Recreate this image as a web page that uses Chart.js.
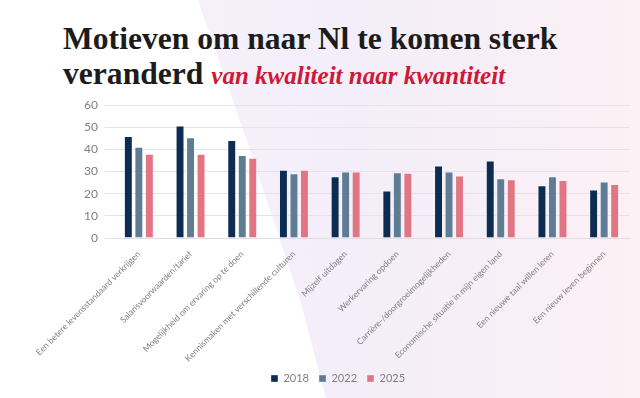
<!DOCTYPE html>
<html>
<head>
<meta charset="utf-8">
<script src="https://cdn.jsdelivr.net/npm/chart.js@4/dist/chart.umd.min.js"></script>
<style>
  html, body { margin: 0; padding: 0; }
  body { width: 640px; height: 398px; position: relative; overflow: hidden; background: #ffffff; }
  #bg {
    position: absolute; left: 0; top: 0; width: 640px; height: 398px;
    background: linear-gradient(90deg, #f7f3fc 0%, #f3eef9 55%, #f8eff7 80%, #fcf1f4 100%);
    clip-path: polygon(198px 0, 640px 0, 640px 398px, 326px 398px, 300px 300px, 250px 150px);
  }
  #title {
    position: absolute; left: 63px; top: 21px;
    font-family: "Liberation Serif", "Times New Roman", serif;
    font-weight: bold; font-size: 31.6px; line-height: 35px; color: #1c1c1c;
  }
  #title .sub { font-style: italic; font-size: 25px; color: #cf1838; }
  #chart { position: absolute; left: 0; top: 0; }
</style>
</head>
<body>
<div id="bg"></div>
<div id="title">Motieven om naar Nl te komen sterk<br>veranderd <span class="sub">van kwaliteit naar kwantiteit</span></div>
<canvas id="chart" width="640" height="398"></canvas>
<script>
const categories = [
  'Een betere levensstandaard verkrijgen',
  'Salarisvoorwaarden/tarief',
  'Mogelijkheid om ervaring op te doen',
  'Kennismaken met verschillende culturen',
  'Mijzelf uitdagen',
  'Werkervaring opdoen',
  'Carrière-/doorgroeimogelijkheden',
  'Economische situatie in mijn eigen land',
  'Een nieuwe taal willen leren',
  'Een nieuw leven beginnen'
];
const seriesNames = ['2018', '2022', '2025'];
const values2018 = [46.0, 50.8, 44.2, 30.8, 27.9, 21.4, 32.7, 35.0, 23.8, 21.9];
const values2022 = [41.2, 45.4, 37.5, 29.2, 30.0, 29.7, 30.0, 27.0, 27.9, 25.5];
const values2025 = [38.0, 38.0, 36.2, 30.8, 30.0, 29.4, 28.2, 26.5, 26.2, 24.4];
const yTicks = [0, 10, 20, 30, 40, 50, 60];

const colors = ['#0d2c51', '#5e7c94', '#e27584'];
const allValues = [values2018, values2022, values2025];

const tickColor = '#808080';

new Chart(document.getElementById('chart'), {
  type: 'bar',
  data: {
    labels: categories,
    datasets: seriesNames.map((name, i) => ({
      label: name,
      data: allValues[i],
      backgroundColor: colors[i],
      borderColor: 'rgba(255,255,255,0.35)',
      borderWidth: 1,
      barPercentage: 0.85,
      categoryPercentage: 0.61
    }))
  },
  options: {
    responsive: false,
    animation: false,
    devicePixelRatio: 1,
    layout: { padding: { top: 105, left: 46, right: 10, bottom: 4 } },
    plugins: {
      legend: {
        position: 'bottom',
        labels: {
          boxWidth: 7, boxHeight: 7, padding: 10,
          color: tickColor,
          font: { family: 'Lato', size: 11 }
        }
      },
      tooltip: { enabled: false }
    },
    scales: {
      x: {
        grid: { display: false },
        border: { color: '#e2dde4' },
        ticks: {
          color: tickColor, minRotation: 45, maxRotation: 45, autoSkip: false,
          font: { family: 'Lato', size: 8.6 }
        },
        afterFit: (scale) => { scale.height = 125; }
      },
      y: {
        min: 0, max: 60,
        afterBuildTicks: (scale) => { scale.ticks = yTicks.map(v => ({ value: v })); },
        grid: { color: '#e6e1ea' },
        border: { display: false },
        ticks: { color: tickColor, padding: 7, font: { family: 'Lato', size: 12 } },
        afterFit: (scale) => { scale.width = 67; }
      }
    }
  }
});
</script>
</body>
</html>
